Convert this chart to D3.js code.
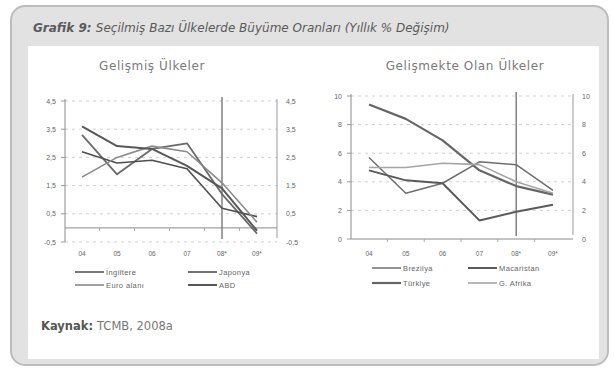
<!DOCTYPE html>
<html>
<head>
<meta charset="utf-8" />
<title>Grafik 9</title>
<style>
body { margin: 0; background: #fff; }
svg { display: block; }
text { font-family: "Liberation Sans", Arial, sans-serif; }
.wide { font-family: "DejaVu Sans", sans-serif; }
</style>
</head>
<body>
<div id="chart"></div>
<script src="https://cdnjs.cloudflare.com/ajax/libs/d3/7.8.5/d3.min.js"></script>
<script>
// data
var years = ["04", "05", "06", "07", "08*", "09*"];

// Gelişmiş Ülkeler
var ingiltere = [3.3, 1.9, 2.8, 3.0, 1.2, -0.2];
var japonya   = [2.7, 2.3, 2.4, 2.1, 0.7, 0.4];
var euroAlani = [1.8, 2.5, 2.9, 2.7, 1.6, 0.2];
var abd       = [3.6, 2.9, 2.8, 2.2, 1.4, -0.1];
var leftTicks = [-0.5, 0.5, 1.5, 2.5, 3.5, 4.5];

// Gelişmekte Olan Ülkeler
var brezilya   = [5.7, 3.2, 3.9, 5.4, 5.2, 3.4];
var macaristan = [4.8, 4.1, 3.9, 1.3, 1.9, 2.4];
var turkiye    = [9.4, 8.4, 6.9, 4.8, 3.7, 3.1];
var gAfrika    = [5.0, 5.0, 5.3, 5.2, 4.0, 3.2];
var rightTicks = [0, 2, 4, 6, 8, 10];

!(function(){
    "use strict"

    var width = 614, height = 371
    var svg = d3.select("#chart").append("svg")
        .attr("width", width).attr("height", height)

    // frame
    svg.append("rect")
        .attr("x", 11).attr("y", 6).attr("width", 597).attr("height", 359)
        .attr("rx", 14)
        .attr("fill", "#e2e2e2").attr("stroke", "#bcbcbc").attr("stroke-width", 2)
    svg.append("rect")
        .attr("x", 28).attr("y", 46).attr("width", 571).attr("height", 313)
        .attr("fill", "#fff")

    var title = svg.append("text").attr("class", "wide")
        .attr("x", 33).attr("y", 32)
        .style("font-size", "12px").style("font-style", "italic").attr("fill", "#5a5a5a")
    title.append("tspan").style("font-weight", "bold").text("Grafik 9: ")
    title.append("tspan").text("Seçilmiş Bazı Ülkelerde Büyüme Oranları (Yıllık % Değişim)")

    svg.append("text").attr("class", "wide")
        .attr("x", 41).attr("y", 330)
        .style("font-size", "11.5px").attr("fill", "#555")
        .call(function(t) {
            t.append("tspan").style("font-weight", "bold").text("Kaynak: ")
            t.append("tspan").attr("fill", "#777").text("TCMB, 2008a")
        })

    var fmtLeft = function(d) { return d3.format(".1f")(d).replace(".", ",").replace("−", "-") }

    drawPanel({
        title: "Gelişmiş Ülkeler", titleX: 152,
        xRange: [82, 257], yDomain: [-0.5, 4.5], yRange: [242, 101],
        axisLeft: 65, axisRight: 277, baseValue: 0,
        ticks: leftTicks, fmt: fmtLeft,
        series: [
            { name: "İngiltere", values: ingiltere, color: "#6a6a6a", w: 1.8 },
            { name: "Japonya",   values: japonya,   color: "#4f4f4f", w: 1.6 },
            { name: "Euro alanı", values: euroAlani, color: "#8a8a8a", w: 1.6 },
            { name: "ABD",       values: abd,       color: "#585858", w: 2 }
        ],
        legendX: [75, 188], legendY: [272, 285]
    })

    drawPanel({
        title: "Gelişmekte Olan Ülkeler", titleX: 465,
        xRange: [369, 553], yDomain: [0, 10], yRange: [239, 96],
        axisLeft: 351, axisRight: 573, baseValue: 0,
        ticks: rightTicks, fmt: d3.format("d"),
        series: [
            { name: "Brezilya",   values: brezilya,   color: "#6e6e6e", w: 1.5 },
            { name: "Macaristan", values: macaristan, color: "#5a5a5a", w: 2 },
            { name: "Türkiye",    values: turkiye,    color: "#666",    w: 2.2 },
            { name: "G. Afrika",  values: gAfrika,    color: "#a5a5a5", w: 1.6 }
        ],
        legendX: [372, 468], legendY: [268, 283]
    })

    function drawPanel(p) {
        var x = d3.scalePoint().domain(years).range(p.xRange)
        var y = d3.scaleLinear().domain(p.yDomain).range(p.yRange)
        var g = svg.append("g")
        var top = p.yRange[1], bottom = p.yRange[0]
        var step = x.step()

        g.append("text").attr("class", "wide")
            .attr("x", p.titleX).attr("y", 70).attr("text-anchor", "middle")
            .style("font-size", "12px").style("letter-spacing", "0.6px")
            .attr("fill", "#7a7a7a").text(p.title)

        // dashed grid
        g.selectAll(".grid").data(p.ticks.filter(function(d) { return d !== p.baseValue }))
            .enter().append("line")
            .attr("x1", p.axisLeft).attr("x2", p.axisRight)
            .attr("y1", function(d) { return y(d) }).attr("y2", function(d) { return y(d) })
            .attr("stroke", "#cfcfcf").attr("stroke-width", 1).attr("stroke-dasharray", "3,4")

        // axes
        g.append("line").attr("x1", p.axisLeft).attr("x2", p.axisLeft)
            .attr("y1", top - 2).attr("y2", bottom).attr("stroke", "#8a8a8a")
        g.append("line").attr("x1", p.axisRight).attr("x2", p.axisRight)
            .attr("y1", top - 2).attr("y2", bottom - 4).attr("stroke", "#999")
        g.append("line").attr("x1", p.axisLeft).attr("x2", p.axisRight)
            .attr("y1", y(p.baseValue)).attr("y2", y(p.baseValue)).attr("stroke", "#8a8a8a")
        g.append("line").attr("x1", x("08*")).attr("x2", x("08*"))
            .attr("y1", top - 4).attr("y2", bottom - 3).attr("stroke", "#6e6e6e").attr("stroke-width", 1.3)

        // category ticks on the base line
        g.selectAll(".ct").data(years.slice(0, 5)).enter().append("line")
            .attr("x1", function(d) { return x(d) + step / 2 }).attr("x2", function(d) { return x(d) + step / 2 })
            .attr("y1", y(p.baseValue)).attr("y2", y(p.baseValue) + 3).attr("stroke", "#aaa")

        // y tick labels both sides
        g.selectAll(".yl").data(p.ticks).enter().append("text")
            .attr("x", p.axisLeft - 9).attr("y", function(d) { return y(d) + 2.5 })
            .attr("text-anchor", "end").style("font-size", "7px").attr("fill", "#666")
            .text(p.fmt)
        g.selectAll(".yr").data(p.ticks).enter().append("text")
            .attr("x", p.axisRight + 9).attr("y", function(d) { return y(d) + 2.5 })
            .style("font-size", "7px").attr("fill", "#666")
            .text(p.fmt)
        g.selectAll(".ytl").data(p.ticks).enter().append("line")
            .attr("x1", p.axisLeft - 4).attr("x2", p.axisLeft)
            .attr("y1", function(d) { return y(d) }).attr("y2", function(d) { return y(d) })
            .attr("stroke", "#999")

        // x labels
        g.selectAll(".xl").data(years).enter().append("text")
            .attr("x", function(d) { return x(d) }).attr("y", 256)
            .attr("text-anchor", "middle").style("font-size", "6.5px").attr("fill", "#666")
            .text(function(d) { return d })

        var line = d3.line()
            .x(function(d, i) { return x(years[i]) })
            .y(function(d) { return y(d) })

        g.selectAll(".series").data(p.series).enter().append("path")
            .attr("d", function(s) { return line(s.values) })
            .attr("fill", "none")
            .attr("stroke", function(s) { return s.color })
            .attr("stroke-width", function(s) { return s.w })
            .attr("stroke-linejoin", "round")

        // legend, two columns
        var leg = g.selectAll(".leg").data(p.series).enter().append("g")
            .attr("transform", function(s, i) {
                return "translate(" + p.legendX[i % 2] + "," + p.legendY[Math.floor(i / 2)] + ")"
            })
        leg.append("line").attr("x1", 0).attr("x2", 29).attr("y1", 0).attr("y2", 0)
            .attr("stroke", function(s) { return s.color })
            .attr("stroke-width", function(s) { return s.w })
        leg.append("text").attr("x", 31).attr("y", 2.5)
            .style("font-size", "7.5px").style("letter-spacing", "0.4px").attr("fill", "#666")
            .text(function(s) { return s.name })
    }
}());
</script>
</body>
</html>
